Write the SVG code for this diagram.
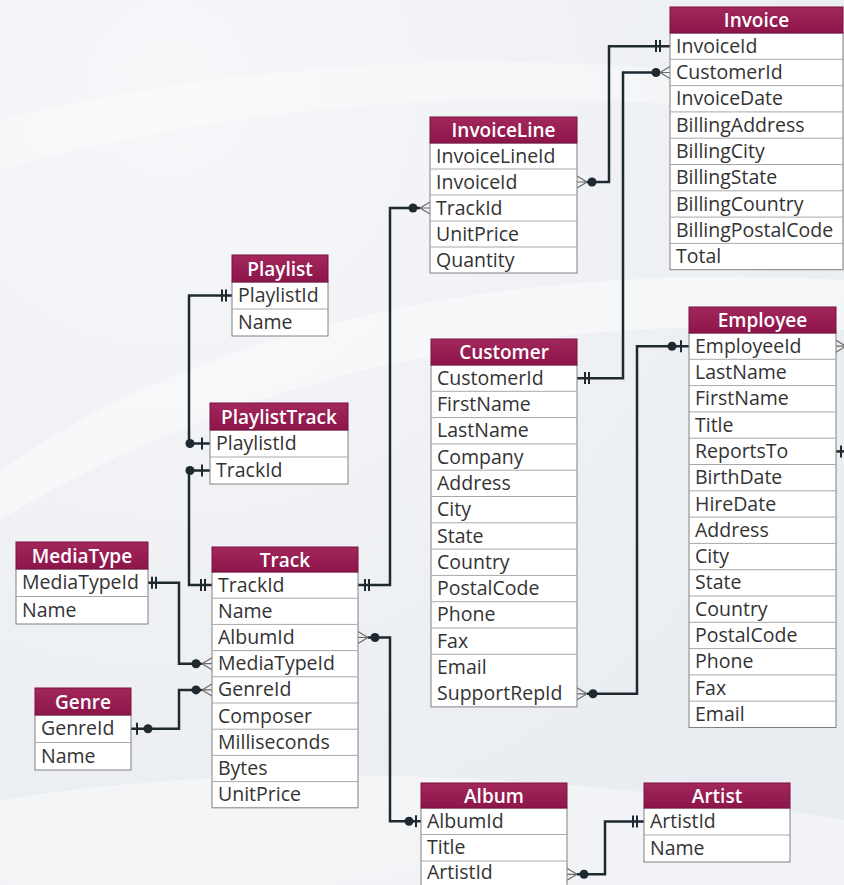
<svg xmlns="http://www.w3.org/2000/svg" width="844" height="885" viewBox="0 0 844 885">
<defs>
<linearGradient id="hdr" x1="0" y1="0" x2="0" y2="1">
<stop offset="0" stop-color="#a3275b"/>
<stop offset="1" stop-color="#8c1549"/>
</linearGradient>
<radialGradient id="bg" cx="0.2" cy="0.1" r="1">
<stop offset="0" stop-color="#f6f7f9"/>
<stop offset="1" stop-color="#e9ecf0"/>
</radialGradient>
<style>
.hd{fill:url(#hdr);stroke:#7a1040;stroke-width:1}
.bd{fill:#ffffff;stroke:#808080;stroke-width:1}
.sep{stroke:#a8a8a8;stroke-width:1}
.ht{font-family:"Open Sans","DejaVu Sans",sans-serif;font-size:19px;font-weight:600;fill:#ffffff;text-anchor:middle}
.rt{font-family:"Open Sans","DejaVu Sans",sans-serif;font-size:19.5px;fill:#333333}
.ln{fill:none;stroke:#1e2a30;stroke-width:2.5}
.bar{fill:none;stroke:#1e2a30;stroke-width:2}
.cf{fill:none;stroke:#6a6a6a;stroke-width:1.2}
.dot{fill:#1e2a30}
</style>
</defs>
<rect x="0" y="0" width="844" height="885" fill="url(#bg)"/>
<path d="M0,470 C200,330 500,260 844,280 L844,330 C520,310 230,380 0,520 Z" fill="#ffffff" opacity="0.45"/>
<path d="M0,120 C250,60 520,40 844,90 L844,120 C520,80 250,100 0,170 Z" fill="#ffffff" opacity="0.35"/>
<path d="M0,800 C250,760 550,770 844,820 L844,885 L0,885 Z" fill="#ffffff" opacity="0.4"/>

<g id="connectors">
<!-- InvoiceLine.InvoiceId -> Invoice.InvoiceId -->
<path class="ln" d="M587,182 H609 V46.2 H670"/>
<path class="cf" d="M587,182 L577,176 M587,182 L577,182 M587,182 L577,188"/>
<circle class="dot" cx="592" cy="182" r="4.5"/>
<path class="bar" d="M656,40 V52 M660,40 V52"/>
<!-- Customer.CustomerId -> Invoice.CustomerId -->
<path class="ln" d="M577,378.2 H623 V72.5 H660"/>
<path class="bar" d="M585,372 V384 M589,372 V384"/>
<circle class="dot" cx="656" cy="72.5" r="4.5"/>
<path class="cf" d="M660,72.5 L670,66.5 M660,72.5 L670,72.5 M660,72.5 L670,78.5"/>
<!-- Customer.SupportRepId -> Employee.EmployeeId -->
<path class="ln" d="M587,693.8 H637 V346.2 H689"/>
<path class="cf" d="M587,693.8 L577,687.8 M587,693.8 L577,693.8 M587,693.8 L577,699.8"/>
<circle class="dot" cx="593" cy="693.8" r="4.5"/>
<circle class="dot" cx="672" cy="346.2" r="4.5"/>
<path class="bar" d="M681,340.2 V352.2"/>
<!-- Employee self reference (cut off) -->
<path class="cf" d="M846,346.2 L836,340.2 M846,346.2 L836,346.2 M846,346.2 L836,352.2"/>
<path class="ln" d="M836,451.4 H846"/>
<path class="bar" d="M841,445.4 V457.4"/>
<!-- Track.TrackId -> InvoiceLine.TrackId -->
<path class="ln" d="M358,585 H390 V208 H420"/>
<path class="bar" d="M365,579 V591 M369,579 V591"/>
<circle class="dot" cx="413" cy="208" r="4.5"/>
<path class="cf" d="M420,208 L430,202 M420,208 L430,208 M420,208 L430,214"/>
<!-- Track.AlbumId -> Album.AlbumId -->
<path class="ln" d="M368,637.5 H390 V821.3 H421"/>
<path class="cf" d="M368,637.5 L358,631.5 M368,637.5 L358,637.5 M368,637.5 L358,643.5"/>
<circle class="dot" cx="375" cy="637.5" r="4.5"/>
<circle class="dot" cx="409" cy="821.3" r="4.5"/>
<path class="bar" d="M416,815.3 V827.3"/>
<!-- Album.ArtistId -> Artist.ArtistId -->
<path class="ln" d="M577,874.3 H605 V821.5 H644"/>
<path class="cf" d="M577,874.3 L567,868.3 M577,874.3 L567,874.3 M577,874.3 L567,880.3"/>
<circle class="dot" cx="584" cy="874.3" r="4.5"/>
<path class="bar" d="M633,815.5 V827.5 M637,815.5 V827.5"/>
<!-- MediaType.MediaTypeId -> Track.MediaTypeId -->
<path class="ln" d="M148,582.8 H179 V663.7 H202"/>
<path class="bar" d="M152,576.8 V588.8 M156,576.8 V588.8"/>
<circle class="dot" cx="196" cy="663.7" r="4.5"/>
<path class="cf" d="M202,663.7 L212,657.7 M202,663.7 L212,663.7 M202,663.7 L212,669.7"/>
<!-- Genre.GenreId -> Track.GenreId -->
<path class="ln" d="M131,728.8 H179 V689.9 H202"/>
<path class="bar" d="M137,722.8 V734.8"/>
<circle class="dot" cx="148" cy="728.8" r="4.5"/>
<circle class="dot" cx="196" cy="689.9" r="4.5"/>
<path class="cf" d="M202,689.9 L212,683.9 M202,689.9 L212,689.9 M202,689.9 L212,695.9"/>
<!-- Playlist.PlaylistId -> PlaylistTrack.PlaylistId -->
<path class="ln" d="M232,295.5 H189 V443.5 H210"/>
<path class="bar" d="M222,289.5 V301.5 M226,289.5 V301.5"/>
<circle class="dot" cx="190" cy="443.5" r="4.5"/>
<path class="bar" d="M202,437.5 V449.5"/>
<!-- PlaylistTrack.TrackId -> Track.TrackId -->
<path class="ln" d="M210,470.5 H189 V585 H212"/>
<circle class="dot" cx="190" cy="470.5" r="4.5"/>
<path class="bar" d="M202,464.5 V476.5"/>
<path class="bar" d="M201,579 V591 M205,579 V591"/>
</g>

<g id="Invoice" transform="translate(670,7)">
<rect class="bd" x="0" y="26" width="173" height="236.7"/>
<rect class="hd" x="0" y="0" width="173" height="26"/>
<text class="ht" x="86.5" y="20">Invoice</text>
<path class="sep" d="M0,52.3 H173 M0,78.6 H173 M0,104.9 H173 M0,131.2 H173 M0,157.5 H173 M0,183.8 H173 M0,210.1 H173 M0,236.4 H173"/>
<text class="rt" x="6" y="45.7">InvoiceId</text>
<text class="rt" x="6" y="72">CustomerId</text>
<text class="rt" x="6" y="98.3">InvoiceDate</text>
<text class="rt" x="6" y="124.6">BillingAddress</text>
<text class="rt" x="6" y="150.9">BillingCity</text>
<text class="rt" x="6" y="177.2">BillingState</text>
<text class="rt" x="6" y="203.5">BillingCountry</text>
<text class="rt" x="6" y="229.8">BillingPostalCode</text>
<text class="rt" x="6" y="256.1">Total</text>
</g>

<g id="InvoiceLine" transform="translate(430,117)">
<rect class="bd" x="0" y="26" width="147" height="130"/>
<rect class="hd" x="0" y="0" width="147" height="26"/>
<text class="ht" x="73.5" y="20">InvoiceLine</text>
<path class="sep" d="M0,52 H147 M0,78 H147 M0,104 H147 M0,130 H147"/>
<text class="rt" x="6" y="45.5">InvoiceLineId</text>
<text class="rt" x="6" y="71.5">InvoiceId</text>
<text class="rt" x="6" y="97.5">TrackId</text>
<text class="rt" x="6" y="123.5">UnitPrice</text>
<text class="rt" x="6" y="149.5">Quantity</text>
</g>

<g id="Playlist" transform="translate(232,255)">
<rect class="bd" x="0" y="27" width="96" height="54"/>
<rect class="hd" x="0" y="0" width="96" height="27"/>
<text class="ht" x="48" y="20.5">Playlist</text>
<path class="sep" d="M0,54 H96"/>
<text class="rt" x="6" y="47">PlaylistId</text>
<text class="rt" x="6" y="74">Name</text>
</g>

<g id="PlaylistTrack" transform="translate(210,403)">
<rect class="bd" x="0" y="27" width="138" height="54"/>
<rect class="hd" x="0" y="0" width="138" height="27"/>
<text class="ht" x="69" y="20.5">PlaylistTrack</text>
<path class="sep" d="M0,54 H138"/>
<text class="rt" x="6" y="47">PlaylistId</text>
<text class="rt" x="6" y="74">TrackId</text>
</g>

<g id="MediaType" transform="translate(16,542)">
<rect class="bd" x="0" y="27" width="132" height="55"/>
<rect class="hd" x="0" y="0" width="132" height="27"/>
<text class="ht" x="66" y="20.5">MediaType</text>
<path class="sep" d="M0,54.5 H132"/>
<text class="rt" x="6" y="47.3">MediaTypeId</text>
<text class="rt" x="6" y="74.8">Name</text>
</g>

<g id="Genre" transform="translate(35,688)">
<rect class="bd" x="0" y="27" width="96" height="55"/>
<rect class="hd" x="0" y="0" width="96" height="27"/>
<text class="ht" x="48" y="20.5">Genre</text>
<path class="sep" d="M0,54.5 H96"/>
<text class="rt" x="6" y="47.3">GenreId</text>
<text class="rt" x="6" y="74.8">Name</text>
</g>

<g id="Track" transform="translate(212,547)">
<rect class="bd" x="0" y="25" width="146" height="235.8"/>
<rect class="hd" x="0" y="0" width="146" height="25"/>
<text class="ht" x="73" y="19.5">Track</text>
<path class="sep" d="M0,51.2 H146 M0,77.4 H146 M0,103.6 H146 M0,129.8 H146 M0,156 H146 M0,182.2 H146 M0,208.4 H146 M0,234.6 H146"/>
<text class="rt" x="6" y="44.6">TrackId</text>
<text class="rt" x="6" y="70.8">Name</text>
<text class="rt" x="6" y="97">AlbumId</text>
<text class="rt" x="6" y="123.2">MediaTypeId</text>
<text class="rt" x="6" y="149.4">GenreId</text>
<text class="rt" x="6" y="175.6">Composer</text>
<text class="rt" x="6" y="201.8">Milliseconds</text>
<text class="rt" x="6" y="228">Bytes</text>
<text class="rt" x="6" y="254.2">UnitPrice</text>
</g>

<g id="Customer" transform="translate(431,339)">
<rect class="bd" x="0" y="26" width="146" height="341.9"/>
<rect class="hd" x="0" y="0" width="146" height="26"/>
<text class="ht" x="73" y="20">Customer</text>
<path class="sep" d="M0,52.3 H146 M0,78.6 H146 M0,104.9 H146 M0,131.2 H146 M0,157.5 H146 M0,183.8 H146 M0,210.1 H146 M0,236.4 H146 M0,262.7 H146 M0,289 H146 M0,315.3 H146"/>
<text class="rt" x="6" y="45.7">CustomerId</text>
<text class="rt" x="6" y="72">FirstName</text>
<text class="rt" x="6" y="98.3">LastName</text>
<text class="rt" x="6" y="124.6">Company</text>
<text class="rt" x="6" y="150.9">Address</text>
<text class="rt" x="6" y="177.2">City</text>
<text class="rt" x="6" y="203.5">State</text>
<text class="rt" x="6" y="229.8">Country</text>
<text class="rt" x="6" y="256.1">PostalCode</text>
<text class="rt" x="6" y="282.4">Phone</text>
<text class="rt" x="6" y="308.7">Fax</text>
<text class="rt" x="6" y="335">Email</text>
<text class="rt" x="6" y="361.3">SupportRepId</text>
</g>

<g id="Employee" transform="translate(689,307)">
<rect class="bd" x="0" y="26" width="147" height="394.5"/>
<rect class="hd" x="0" y="0" width="147" height="26"/>
<text class="ht" x="73.5" y="20">Employee</text>
<path class="sep" d="M0,52.3 H147 M0,78.6 H147 M0,104.9 H147 M0,131.2 H147 M0,157.5 H147 M0,183.8 H147 M0,210.1 H147 M0,236.4 H147 M0,262.7 H147 M0,289 H147 M0,315.3 H147 M0,341.6 H147 M0,367.9 H147 M0,394.2 H147"/>
<text class="rt" x="6" y="45.7">EmployeeId</text>
<text class="rt" x="6" y="72">LastName</text>
<text class="rt" x="6" y="98.3">FirstName</text>
<text class="rt" x="6" y="124.6">Title</text>
<text class="rt" x="6" y="150.9">ReportsTo</text>
<text class="rt" x="6" y="177.2">BirthDate</text>
<text class="rt" x="6" y="203.5">HireDate</text>
<text class="rt" x="6" y="229.8">Address</text>
<text class="rt" x="6" y="256.1">City</text>
<text class="rt" x="6" y="282.4">State</text>
<text class="rt" x="6" y="308.7">Country</text>
<text class="rt" x="6" y="335">PostalCode</text>
<text class="rt" x="6" y="361.3">Phone</text>
<text class="rt" x="6" y="387.6">Fax</text>
<text class="rt" x="6" y="413.9">Email</text>
</g>

<g id="Album" transform="translate(421,783)">
<rect class="bd" x="0" y="25" width="146" height="79"/>
<rect class="hd" x="0" y="0" width="146" height="25"/>
<text class="ht" x="73" y="19.5">Album</text>
<path class="sep" d="M0,51.5 H146 M0,78 H146"/>
<text class="rt" x="6" y="44.8">AlbumId</text>
<text class="rt" x="6" y="71.3">Title</text>
<text class="rt" x="6" y="96.3">ArtistId</text>
</g>

<g id="Artist" transform="translate(644,783)">
<rect class="bd" x="0" y="25" width="146" height="54"/>
<rect class="hd" x="0" y="0" width="146" height="25"/>
<text class="ht" x="73" y="19.5">Artist</text>
<path class="sep" d="M0,52 H146"/>
<text class="rt" x="6" y="45">ArtistId</text>
<text class="rt" x="6" y="72">Name</text>
</g>
</svg>
